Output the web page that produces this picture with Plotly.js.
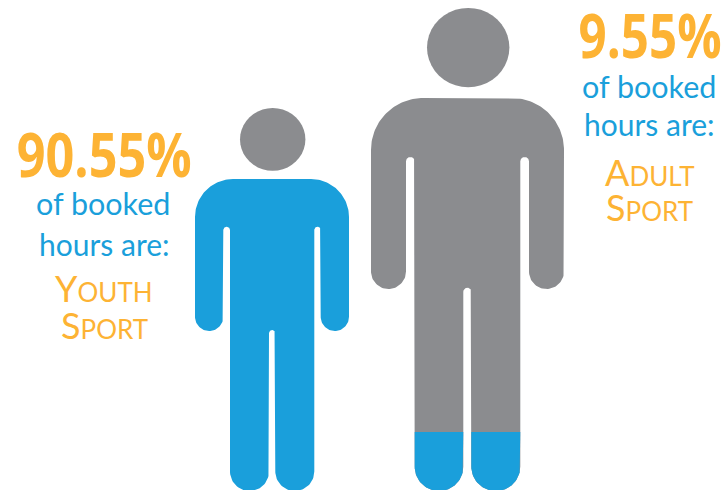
<!DOCTYPE html>
<html>
<head>
<meta charset="utf-8">
<script src="https://cdn.plot.ly/plotly-3.0.1.min.js"></script>
<style>html,body{margin:0;padding:0;background:#fff}#chart{width:727px;height:490px}</style>
</head>
<body>
<div id="chart"></div>
<script>
// Share of booked hours by sport type
const groups = ["Youth", "Adult"];
const shares = [90.55, 9.55];
const leadIn = ["of booked", "hours are:"];
const sportWord = "Sport";

const BLUE = "#1a9fdb", GREY = "#8b8c8f", ORANGE = "#fdb334";

// Proportions of the two pictogram figures, in axis units
const youthFigure = {
  head: {cx: 272.7, cy: 139.4, rx: 32.7, ry: 31.4},
  top: 179, left: 195, right: 349, shoulder: 38,
  armInner: [223.3, 320.7], slotTop: 226.7, armBottom: 331,
  torso: [230, 314.3], crotch: [269, 275.3], crotchTop: 330, bottom: 491,
  bodyColor: BLUE
};
const adultFigure = {
  head: {cx: 468.2, cy: 47.6, rx: 41.2, ry: 39.7},
  top: 98, left: 371, right: 564, shoulder: 52,
  armInner: [406, 529], slotTop: 157, armBottom: 289,
  torso: [414.7, 520.3], crotch: [463.3, 471.3], crotchTop: 287.7, bottom: 491,
  bodyColor: GREY, tipFrom: 432
};

// Appends an elliptical arc, angles in degrees (y axis points down)
function arc(pts, cx, cy, rx, ry, a0, a1) {
  const n = 40;
  for (let i = 0; i <= n; i++) {
    const a = (a0 + (a1 - a0) * i / n) * Math.PI / 180;
    pts.push([cx + rx * Math.cos(a), cy + ry * Math.sin(a)]);
  }
}

function bodyOutline(f) {
  const p = [];
  const s = f.shoulder;
  const [innerL, innerR] = f.armInner;
  const [torsoL, torsoR] = f.torso;
  const [gapL, gapR] = f.crotch;
  const armRL = (innerL - f.left) / 2, armRR = (f.right - innerR) / 2;
  const slotRL = (torsoL - innerL) / 2, slotRR = (innerR - torsoR) / 2;
  const legRL = (gapL - torsoL) / 2, legRR = (torsoR - gapR) / 2;
  const gapR2 = (gapR - gapL) / 2;
  arc(p, f.left + s, f.top + s, s, s, 180, 270);
  arc(p, f.right - s, f.top + s, s, s, 270, 360);
  arc(p, f.right - armRR, f.armBottom - armRR, armRR, armRR, 0, 180);
  arc(p, innerR - slotRR, f.slotTop + slotRR, slotRR, slotRR, 0, -180);
  arc(p, torsoR - legRR, f.bottom - legRR, legRR, legRR, 0, 180);
  arc(p, gapL + gapR2, f.crotchTop + gapR2, gapR2, gapR2, 0, -180);
  arc(p, torsoL + legRL, f.bottom - legRL, legRL, legRL, 0, 180);
  arc(p, innerL + slotRL, f.slotTop + slotRL, slotRL, slotRL, 0, -180);
  arc(p, f.left + armRL, f.armBottom - armRL, armRL, armRL, 0, 180);
  p.push(p[0]);
  return p;
}

function legTip(xL, xR, from, bottom) {
  const r = (xR - xL) / 2;
  const p = [[xR, from]];
  arc(p, xL + r, bottom - r, r, r, 0, 180);
  p.push([xL, from], [xR, from]);
  return p;
}

function headOutline(h) {
  const p = [];
  arc(p, h.cx, h.cy, h.rx, h.ry, 0, 360);
  return p;
}

function filled(pts, color, name) {
  return {
    type: "scatter", mode: "lines", name,
    x: pts.map(q => q[0]), y: pts.map(q => q[1]),
    fill: "toself", fillcolor: color,
    line: {width: 0, color},
    hoverinfo: "skip", showlegend: false
  };
}

const traces = [
  filled(headOutline(youthFigure.head), GREY, "Youth head"),
  filled(bodyOutline(youthFigure), youthFigure.bodyColor, "Youth body"),
  filled(headOutline(adultFigure.head), GREY, "Adult head"),
  filled(bodyOutline(adultFigure), adultFigure.bodyColor, "Adult body"),
  filled(legTip(adultFigure.torso[0], adultFigure.crotch[0], adultFigure.tipFrom, adultFigure.bottom), BLUE, "Adult left tip"),
  filled(legTip(adultFigure.crotch[1], adultFigure.torso[1], adultFigure.tipFrom, adultFigure.bottom), BLUE, "Adult right tip")
];

const SANS = "Lato, 'Open Sans', sans-serif";
const HEAVY = "'Open Sans', sans-serif";

function label(x, y, text, size, color, family) {
  return {
    xref: "x", yref: "y", x, y, text, showarrow: false,
    xanchor: "center", yanchor: "middle",
    font: {family: family || SANS, size, color}
  };
}

// Small-caps look: larger first letter, smaller uppercase remainder
function smallCaps(word) {
  return word[0].toUpperCase() +
    '<span style="font-size:26px">' + word.slice(1).toUpperCase() + "</span>";
}

const blocks = [
  {x: 104, lines: [154, 203, 244, 288, 325], headlineWidth: 175},
  {x: 649.5, lines: [35, 86, 124, 172, 207], headlineWidth: 143}
];

const annotations = [];
groups.forEach((g, i) => {
  const b = blocks[i];
  annotations.push(label(b.x, b.lines[0], "<b>" + shares[i] + "%</b>", 60, ORANGE, HEAVY));
  annotations.push(label(b.x - 1, b.lines[1], leadIn[0], 30.5, BLUE));
  annotations.push(label(b.x, b.lines[2], leadIn[1], 30, BLUE));
  annotations.push(label(b.x, b.lines[3], smallCaps(g), 36, ORANGE));
  annotations.push(label(b.x, b.lines[4], smallCaps(sportWord), 36, ORANGE));
});

const hidden = {visible: false, fixedrange: true, zeroline: false, showgrid: false};
const layout = {
  width: 727, height: 490,
  margin: {l: 0, r: 0, t: 0, b: 0},
  paper_bgcolor: "#fff", plot_bgcolor: "#fff",
  xaxis: Object.assign({range: [0, 727]}, hidden),
  yaxis: Object.assign({range: [490, 0]}, hidden),
  annotations, showlegend: false
};

Plotly.newPlot("chart", traces, layout, {displayModeBar: false, staticPlot: true}).then(gd => {
  // The percentage headlines are set in a condensed cut of the bold face
  const texts = gd.querySelectorAll(".annotation-text");
  groups.forEach((g, i) => {
    const el = Array.from(texts).find(t => t.textContent === shares[i] + "%");
    if (el) {
      el.setAttribute("textLength", blocks[i].headlineWidth);
      el.setAttribute("lengthAdjust", "spacingAndGlyphs");
    }
  });
});
</script>
</body>
</html>
